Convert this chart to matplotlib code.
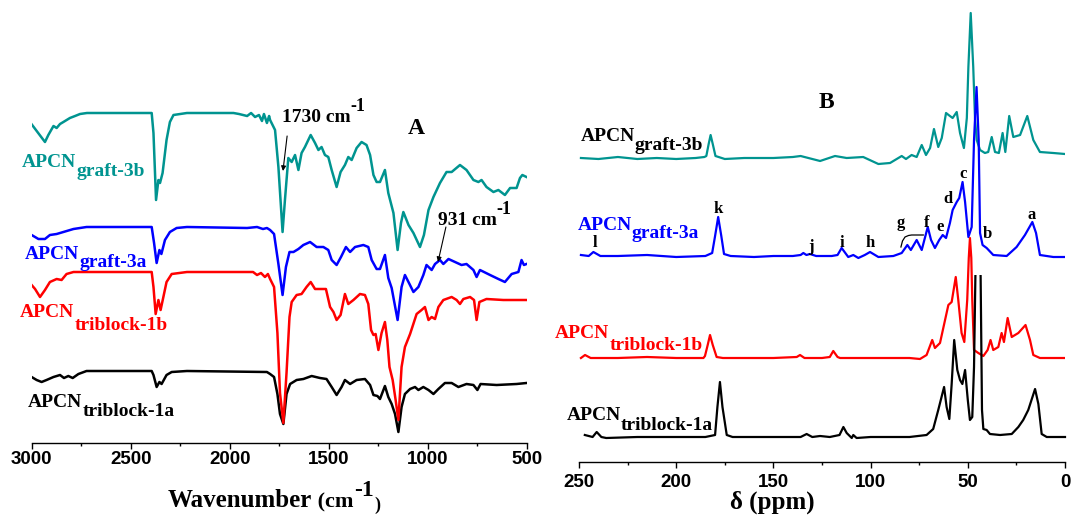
"""
FTIR (A) and solid-state 13C NMR (B) spectra of the APCN samples.
Traces are stacked with a vertical offset; values are read off the original figure.
"""

import numpy as np
import matplotlib
matplotlib.use("Agg")
import matplotlib.pyplot as plt
from matplotlib.patches import Rectangle
from matplotlib.ticker import MultipleLocator

SERIF = "Liberation Serif"
SANS = "Liberation Sans"

TEAL = "#009490"
BLUE = "#0000ff"
RED = "#ff0000"
BLACK = "#000000"

# ---------------- panel A: FTIR, wavenumber (cm-1) vs transmittance (a.u.) ----------------
wn_graft3b = [3009, 2933, 2916, 2890, 2874, 2857, 2840, 2807, 2781, 2756, 2721, 2394, 2385,
              2372, 2360, 2352, 2339, 2319, 2302, 2284, 2216, 1981, 1953, 1912, 1892, 1872,
              1852, 1837, 1827, 1812, 1801, 1796, 1771, 1754, 1733, 1721, 1704, 1687, 1670,
              1653, 1637, 1620, 1591, 1569, 1552, 1536, 1519, 1502, 1485, 1460, 1440, 1418,
              1401, 1384, 1359, 1334, 1309, 1291, 1274, 1258, 1241, 1216, 1199, 1173, 1152,
              1135, 1123, 1097, 1072, 1039, 1019, 996, 971, 938, 905, 879, 837, 804, 769,
              744, 728, 703, 668, 643, 610, 584, 551, 534, 522, 501]
t_graft3b = [-9, -29, -22, -13, -15, -11, -9, -5, -3, -1, 0, 0, -20,
             -87, -67, -70, -60, -27, -9, -2, 0, 0, -1, -3, 0, -4,
             -2, -8, -1, -10, -3, -7, -17, -54, -119, -87, -45, -49, -42,
             -57, -40, -34, -22, -30, -37, -34, -42, -44, -57, -74, -59, -52,
             -44, -47, -35, -29, -32, -42, -62, -69, -69, -57, -80, -100, -137,
             -110, -99, -112, -120, -134, -122, -97, -84, -70, -59, -59, -52, -57, -67,
             -69, -67, -74, -79, -77, -82, -75, -75, -65, -62, -64]

wn_graft3a = [3009, 2966, 2933, 2908, 2874, 2840, 2789, 2723, 2394, 2382, 2369, 2355, 2345,
              2327, 2302, 2268, 2216, 1912, 1862, 1832, 1812, 1796, 1776, 1754, 1733, 1716,
              1698, 1678, 1653, 1628, 1594, 1561, 1527, 1502, 1485, 1460, 1438, 1413, 1392,
              1367, 1325, 1300, 1283, 1258, 1241, 1216, 1199, 1182, 1152, 1132, 1115, 1092,
              1072, 1047, 1022, 1006, 980, 963, 938, 921, 895, 862, 829, 804, 769, 753, 736,
              685, 643, 610, 576, 542, 526, 514, 501]
t_graft3a = [-7, -12, -12, -8, -7, -5, -2, 0, 0, -16, -36, -23, -27,
             -13, -5, -1, 0, -1, 0, -2, -1, -3, -7, -37, -68, -40,
             -25, -25, -22, -18, -15, -20, -20, -23, -33, -38, -30, -20, -25,
             -20, -18, -20, -33, -42, -42, -28, -51, -61, -93, -60, -48, -57,
             -65, -60, -48, -38, -43, -37, -33, -37, -32, -35, -38, -37, -43, -50, -43,
             -48, -52, -55, -47, -45, -33, -38, -37]

wn_triblock1b = [3009, 2983, 2958, 2933, 2908, 2874, 2849, 2824, 2789, 2394, 2385, 2374, 2360,
                 2349, 2335, 2319, 2293, 2216, 1882, 1862, 1842, 1822, 1807, 1796, 1776, 1759,
                 1746, 1729, 1713, 1698, 1687, 1662, 1637, 1612, 1591, 1569, 1544, 1514, 1493,
                 1476, 1460, 1440, 1418, 1401, 1375, 1342, 1317, 1300, 1286, 1274, 1263, 1249,
                 1233, 1216, 1204, 1193, 1177, 1162, 1148, 1132, 1115, 1089, 1056, 1031, 1014,
                 996, 980, 963, 946, 921, 879, 854, 837, 820, 786, 766, 753, 739, 703, 618,
                 551, 501]
t_triblock1b = [-11, -17, -25, -18, -10, -7, -8, -2, 0, 0, -15, -42, -28,
                -38, -25, -10, -2, 0, 0, -3, -1, -5, -2, -7, -15, -61,
                -121, -151, -101, -45, -30, -23, -22, -15, -10, -17, -17, -17, -35,
                -40, -48, -43, -22, -32, -28, -22, -23, -32, -58, -63, -62, -78,
                -61, -50, -68, -95, -108, -128, -148, -95, -75, -62, -42, -38, -35,
                -48, -45, -47, -35, -28, -25, -28, -32, -27, -25, -28, -48, -30, -27, -28,
                -28, -28]

wn_triblock1a = [3009, 2975, 2950, 2925, 2890, 2857, 2837, 2815, 2793, 2764, 2723, 2394, 2385,
                 2369, 2355, 2344, 2319, 2293, 2216, 1812, 1796, 1776, 1759, 1746, 1729, 1713,
                 1695, 1662, 1628, 1586, 1544, 1511, 1485, 1460, 1435, 1418, 1392, 1359, 1317,
                 1291, 1274, 1254, 1241, 1216, 1199, 1182, 1165, 1148, 1132, 1115, 1089, 1064,
                 1047, 1022, 996, 971, 946, 913, 879, 845, 804, 769, 749, 733, 652, 551, 501]
t_triblock1a = [-5, -9, -11, -9, -6, -4, -7, -5, -7, -3, 0, 0, -4,
                -16, -11, -13, -4, -1, 0, -1, -3, -6, -23, -43, -53, -23,
                -13, -9, -8, -5, -7, -8, -16, -24, -16, -9, -13, -9, -8,
                -14, -24, -25, -28, -15, -26, -33, -43, -61, -36, -23, -18, -16,
                -19, -16, -19, -23, -18, -12, -12, -16, -13, -14, -19, -13, -14, -13, -12]

# ---------------- panel B: 13C NMR, chemical shift (ppm) vs intensity (a.u.) ----------------
ppm_graft3b = [249, 240, 230, 220, 210, 200, 190, 185.5, 184.5, 183.3, 182.3, 181.2, 179.8,
               175, 165, 150, 140, 136, 130, 126, 118.3, 112.3, 103.8, 96, 90, 84, 81.8,
               78.9, 76.3, 73.7, 71.5, 69.4, 67.4, 65.2, 63.4, 61.2, 59.2, 57.8, 55.7, 54,
               52, 50.5, 49.7, 48.5, 47.2, 46.3, 45.4, 43.7, 41.2, 39.5, 37.7, 36, 34, 32.1,
               30.7, 28.7, 26.6, 23.1, 19.4, 16.3, 12.9, 6, 0]
i_graft3b = [0, -1, 1, -1, 0, -1, 0, 1, 2, 14, 23, 14, 2,
             -1, 0, 0, 1, 2, -1, -3, 2, 0, 1, -6, -5, 2, -1,
             3, 1, 13, 3, 10, 29, 11, 20, 45, 42, 40, 46, 25,
             10, 40, 91, 145, 91, 40, 18, 8, 5, 6, 21, 6, 5, 25,
             6, 42, 21, 23, 42, 18, 6, 5, 4]

ppm_graft3a = [249, 245, 242.6, 239, 230, 215, 200, 185, 181.5, 180, 178.4, 176.8, 175.4,
               172, 160, 150, 140, 136, 134.6, 133, 131.2, 128, 120, 117, 114.9, 111.5,
               108.9, 106.3, 103, 100.3, 96, 88.3, 84, 81.1, 79.3, 76.3, 73.7, 70.6, 68.9,
               66.9, 64.7, 62.9, 61.2, 59.2, 57.8, 55.7, 54.4, 52.7, 51.4, 49.7, 48, 46.8,
               45.5, 44.4, 43.7, 42.4, 40.3, 36.9, 30, 24.9, 20.6, 16.8, 14.9, 12.9, 6, 0]
i_graft3a = [1, 0, 4, 0, 0, 1, -1, 0, 3, 20, 39, 20, 2,
             0, -1, 0, 0, 1, 3, 1, 2, 0, 0, 1, 8, -1,
             1, -2, 1, 4, -1, 0, 3, 11, 6, 16, 6, 29, 16,
             8, 16, 21, 18, 33, 46, 54, 58, 74, 54, 19, 29, 116,
             169, 116, 23, 11, 8, 1, 0, 9, 21, 34, 23, 1, -1, -1]

ppm_triblock1b = [249, 246.9, 244, 230, 215, 200, 186, 185.2, 183.8, 182.6, 181.2, 179.2, 176,
                  160, 150, 138, 136.3, 134, 125, 121, 119.2, 117, 115.7, 100, 80, 74.6,
                  71.2, 68.3, 66.9, 64.3, 61.7, 60, 58.3, 56.2, 54.9, 53.2, 51.8, 50.3, 49.5,
                  48.9, 48.2, 47.7, 46.8, 44.6, 42, 39.8, 38.3, 36.9, 34.3, 32.6, 31.4, 29.5,
                  27.4, 24, 20.3, 18, 16.3, 12.9, 0]
i_triblock1b = [0, 3, 0, 0, 1, 0, 0, 2, 13, 23, 13, 1, 0,
                0, 0, 1, 3, 0, 0, 1, 7, 1, 0, 0, 0, -1,
                3, 18, 10, 15, 38, 53, 56, 81, 58, 25, 16, 58, 100,
                120, 100, 58, 8, 5, 2, 8, 18, 8, 11, 25, 16, 40,
                21, 25, 33, 18, 3, 0, 0]

ppm_triblock1a = [247, 243, 240.9, 238.5, 236, 220, 200, 185, 180, 178.8, 177.5, 176.2, 174,
                  171, 150, 136, 132.9, 130, 126, 121, 116, 114, 112.3, 109.7, 108.9, 107.2,
                  100, 80, 71.2, 67.8, 65.2, 62.2, 60.9, 59.5, 58.3, 57, 55.4, 54, 52.8, 51.4,
                  50, 48.9, 47.7, 46.8, 46.1, 44.8, 43.4, 42.7, 42, 40.3, 38.6, 33.4, 27.4, 24,
                  21.5, 18.9, 15.4, 13.7, 12, 9.4, 0]
i_triblock1a = [2, 0, 5, 0, -1, 0, 0, 0, 2, 30, 55, 30, 2,
                0, 0, 0, 3, 0, 1, 0, 2, 10, 4, -1, 2, -1,
                0, 0, 2, 8, 27, 50, 30, 18, 53, 97, 67, 57, 53, 67,
                37, 17, 20, 70, 160, 260, 160, 27, 8, 7, 3, 2, 3, 10,
                17, 27, 48, 33, 3, 0, 0]

# stacking offsets (a.u.) and the height at which the black NMR trace is cut off
ftir_offsets = [330, 216, 171, 72]
nmr_offsets = [304, 206, 104, 25]
nmr_cut = 162

peak_letters = ["k", "l", "j", "i", "h", "g", "f", "e", "d", "c", "b", "a"]
peak_ppm = [178.5, 241.8, 130.7, 114.7, 100.3, 84.4, 71, 64.3, 60.2, 52.5, 40.1, 17]
peak_y = [253, 219, 215, 219, 219, 239, 239, 235, 263, 288, 228, 247]


def sub_label(ax, x, y, main, sub, color, drop, size=14):
    """APCN with a full-size, lowered subscript, as in the original figure."""
    t = ax.text(x, y, main, color=color, fontsize=size, fontweight="bold",
                family=SERIF, ha="left", va="baseline")
    ax.annotate(sub, xy=(1, 0), xycoords=t, xytext=(0, -drop), textcoords="offset pixels",
                color=color, fontsize=size, fontweight="bold", family=SERIF,
                ha="left", va="bottom")
    return t


def sup_text(ax, x, y, main, sup, size=14, raise_px=12):
    t = ax.text(x, y, main, fontsize=size, fontweight="bold", family=SERIF,
                ha="left", va="baseline")
    ax.annotate(sup, xy=(1, 0), xycoords=t, xytext=(0, raise_px), textcoords="offset pixels",
                fontsize=size - 1, fontweight="bold", family=SERIF, ha="left", va="bottom")
    return t


plt.rcParams["font.family"] = SANS
plt.rcParams["font.weight"] = "bold"

fig = plt.figure(figsize=(10.72, 5.15), dpi=100)
axA = fig.add_axes([31.7 / 1072, 72 / 515, 495 / 1072, 443 / 515])
axB = fig.add_axes([579 / 1072, 53 / 515, 486 / 1072, 462 / 515])

for ax in (axA, axB):
    for side in ("left", "top", "right"):
        ax.spines[side].set_visible(False)
    ax.spines["bottom"].set_linewidth(1.0)
    ax.set_yticks([])
    ax.patch.set_alpha(0)

# ---- A ----
axA.set_xlim(3000, 500)
axA.set_ylim(0, 443)
axA.set_xticks(np.arange(3000, 499, -500))
axA.xaxis.set_minor_locator(MultipleLocator(250))
axA.tick_params(axis="x", which="major", direction="out", length=4.3, width=1.0,
                pad=1.5, labelsize=13.5)
axA.tick_params(axis="x", which="minor", direction="out", length=2.5, width=1.0)

ftir = [(wn_triblock1a, t_triblock1a, BLACK, ftir_offsets[3]),
        (wn_triblock1b, t_triblock1b, RED, ftir_offsets[2]),
        (wn_graft3a, t_graft3a, BLUE, ftir_offsets[1]),
        (wn_graft3b, t_graft3b, TEAL, ftir_offsets[0])]
for wn, t, c, off in ftir:
    axA.plot(wn, np.array(t) + off, color=c, lw=1.8, solid_joinstyle="round")

sub_label(axA, 3049, 276, "APCN", "graft-3b", TEAL, 9)
sub_label(axA, 3034, 184, "APCN", "graft-3a", BLUE, 8)
sub_label(axA, 3059, 126, "APCN", "triblock-1b", RED, 13)
sub_label(axA, 3019, 36, "APCN", "triblock-1a", BLACK, 9)

axA.text(1059, 315, "A", fontsize=17, fontweight="bold", family=SERIF, ha="center", va="center")
sup_text(axA, 1736, 321, "1730 cm", "-1", raise_px=11)
sup_text(axA, 948, 218, "931 cm", "-1", raise_px=11)
arrow = dict(arrowstyle="-|>", color="black", lw=0.8, mutation_scale=7, shrinkA=0, shrinkB=0)
axA.annotate("", xy=(1731, 272), xytext=(1710, 307), arrowprops=arrow)
axA.annotate("", xy=(948, 181), xytext=(908, 216), arrowprops=arrow)

# ---- B ----
axB.set_xlim(250, 0)
axB.set_ylim(0, 462)
axB.set_xticks(np.arange(250, -1, -50))
axB.xaxis.set_minor_locator(MultipleLocator(25))
axB.tick_params(axis="x", which="major", direction="out", length=4.3, width=1.0,
                pad=4.5, labelsize=13.5)
axB.tick_params(axis="x", which="minor", direction="out", length=2.5, width=1.0)

nmr = [(ppm_graft3b, i_graft3b, TEAL, nmr_offsets[0]),
       (ppm_graft3a, i_graft3a, BLUE, nmr_offsets[1]),
       (ppm_triblock1b, i_triblock1b, RED, nmr_offsets[2]),
       (ppm_triblock1a, i_triblock1a, BLACK, nmr_offsets[3])]
for ppm, inten, c, off in nmr:
    line, = axB.plot(ppm, np.array(inten) + off, color=c, lw=1.6, solid_joinstyle="round")
    if c == BLACK:
        clip = Rectangle((-5, -50), 260, nmr_cut + off + 50, transform=axB.transData)
        line.set_clip_path(clip)

sub_label(axB, 249.1, 321, "APCN", "graft-3b", BLACK, 9)
sub_label(axB, 250.8, 232, "APCN", "graft-3a", BLUE, 8)
sub_label(axB, 262.3, 124, "APCN", "triblock-1b", RED, 12)
sub_label(axB, 256.5, 42, "APCN", "triblock-1a", BLACK, 10)

axB.text(122.9, 360, "B", fontsize=17, fontweight="bold", family=SERIF, ha="center", va="center")
for s, x, y in zip(peak_letters, peak_ppm, peak_y):
    axB.text(x, y, s, fontsize=12, fontweight="bold", family=SERIF, ha="center", va="center")
# bracket grouping the g resonances
axB.plot([84.4, 83.6, 82.3, 80.5, 78.9, 72.9], [215, 221, 225, 226.5, 227, 227],
         color="black", lw=0.9)

# axis titles
t1 = fig.text(168 / 1072, 8 / 515, "Wavenumber", fontsize=18, fontweight="bold",
              family=SERIF, ha="left", va="baseline")
a2 = axA.annotate(" (cm", xy=(1, 0), xycoords=t1, xytext=(0, 0), textcoords="offset pixels",
                  fontsize=16, fontweight="bold", family=SERIF, ha="left", va="bottom")
a3 = axA.annotate("-1", xy=(1, 0), xycoords=a2, xytext=(0, 11), textcoords="offset pixels",
                  fontsize=17, fontweight="bold", family=SERIF, ha="left", va="bottom")
axA.annotate(")", xy=(1, 0), xycoords=a3, xytext=(1, -13), textcoords="offset pixels",
             fontsize=13, fontweight="bold", family=SERIF, ha="left", va="bottom")

fig.text(772 / 1072, 6 / 515, "\u03b4 (ppm)", fontsize=18, fontweight="bold",
         family=SERIF, ha="center", va="baseline")

fig.savefig("out.png", dpi=100)
